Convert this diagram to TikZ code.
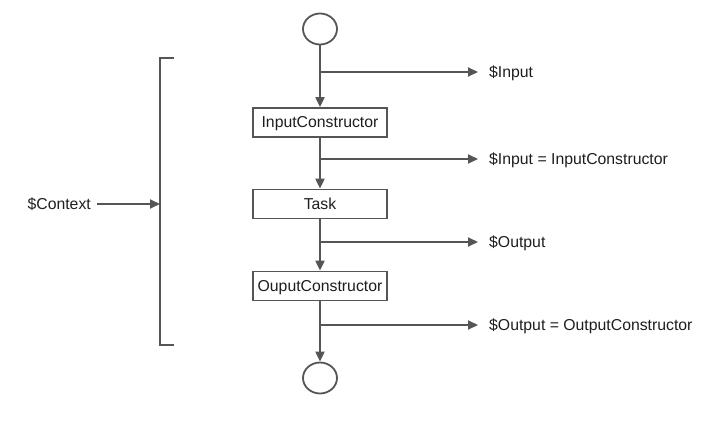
\documentclass[tikz,border=0pt]{standalone}
\usepackage{fontspec}
\setmainfont{Liberation Sans}
\usetikzlibrary{arrows.meta,shapes.geometric}
\definecolor{ln}{HTML}{555555}
\definecolor{tx}{HTML}{1E1E1E}
\begin{document}
\begin{tikzpicture}[x=1pt,y=-1pt,
  every node/.style={font=\fontsize{15.8}{18}\selectfont, text=tx},
  conn/.style={draw=ln, line width=2pt},
  arr/.style={conn, -{Triangle[length=10pt,width=9pt]}},
  box/.style={draw=ln, line width=1.8pt, rectangle, minimum width=134pt, minimum height=29pt, inner sep=0pt, fill=white, text height=12pt, text depth=1.5pt},
  ell/.style={draw=ln, line width=1.8pt, ellipse, minimum width=34pt, minimum height=31pt, inner sep=0pt},
  lbl/.style={anchor=west, inner xsep=11pt, inner ysep=0pt, text height=12pt, text depth=1.5pt}]
\useasboundingbox (0,0) rectangle (718,423);
\node[ell] (start) at (320,29) {};
\node[box] (ic) at (320,122.5) {InputConstructor};
\node[box] (task) at (320,204) {Task};
\node[box] (oc) at (320,286) {OuputConstructor};
\node[ell] (stop) at (320,378) {};
\draw[arr] (start) -- (ic);
\draw[arr] (ic) -- (task);
\draw[arr] (task) -- (oc);
\draw[arr] (oc) -- (stop);
\coordinate (b1) at (320,72);
\coordinate (b2) at (320,159);
\coordinate (b3) at (320,242);
\coordinate (b4) at (320,325);
\node[lbl] (t1) at (478,72) {\$Input};
\node[lbl] (t2) at (478,159) {\$Input = InputConstructor};
\node[lbl] (t3) at (478,242) {\$Output};
\node[lbl] (t4) at (478,325) {\$Output = OutputConstructor};
\draw[arr] (b1) -- (t1.west);
\draw[arr] (b2) -- (t2.west);
\draw[arr] (b3) -- (t3.west);
\draw[arr] (b4) -- (t4.west);
\coordinate (bt) at (174,57.5);
\coordinate (bb) at (174,345);
\coordinate (bm) at (160,204);
\draw[conn] (bt) -- (160,57.5) -- (160,345) -- (bb);
\node[anchor=east, inner xsep=6pt, inner ysep=0pt, text height=12pt, text depth=1.5pt] (ctx) at (97,204) {\$Context};
\draw[arr] (ctx.east) -- (bm);
\end{tikzpicture}
\end{document}
